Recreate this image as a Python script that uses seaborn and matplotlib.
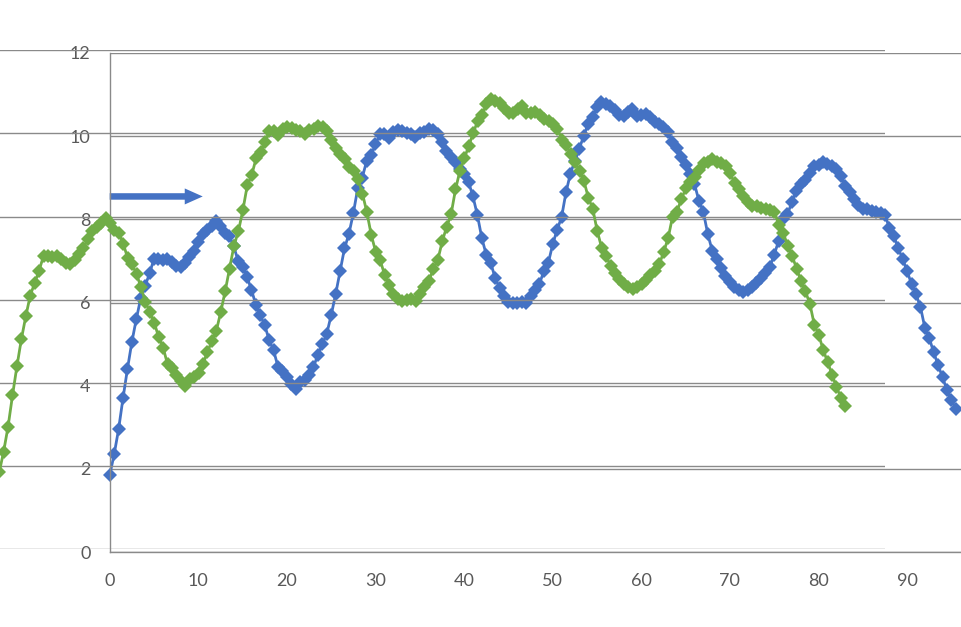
"""
Two copies of the same Excel-style scatter chart laid over each other:
the lower (blue) one carries the axes, the upper (green) one is shifted left/up.
"""
import numpy as np
import matplotlib
matplotlib.use("Agg")
import matplotlib.pyplot as plt
import seaborn as sns

# --- data ---
# samples every 0.5 along x, 0 .. 95.5
x_vals = np.arange(0, 96, 0.5)
y_vals = [
    1.85, 2.35, 2.95, 3.7, 4.4, 5.05, 5.6, 6.1, 6.4, 6.7,
    7.05, 7.05, 7.02, 7.05, 6.98, 6.88, 6.85, 6.95, 7.1, 7.25,
    7.45, 7.65, 7.75, 7.85, 7.97, 7.85, 7.68, 7.6, 7.35, 7.0,
    6.85, 6.62, 6.3, 5.95, 5.7, 5.45, 5.1, 4.85, 4.45, 4.35,
    4.2, 4.05, 3.92, 4.1, 4.15, 4.25, 4.45, 4.75, 5.0, 5.25,
    5.7, 6.2, 6.75, 7.3, 7.65, 8.15, 8.75, 9.0, 9.4, 9.55,
    9.8, 10.05, 10.05, 9.95, 10.1, 10.15, 10.12, 10.08, 10.05, 9.98,
    10.08, 10.1, 10.18, 10.15, 10.05, 9.85, 9.65, 9.5, 9.38, 9.2,
    9.1, 8.9, 8.55, 8.1, 7.55, 7.15, 6.95, 6.6, 6.35, 6.15,
    6.02, 5.98, 6.0, 6.02, 5.98, 6.15, 6.3, 6.45, 6.75, 6.95,
    7.4, 7.75, 8.05, 8.65, 9.1, 9.4, 9.7, 10.0, 10.3, 10.45,
    10.7, 10.82, 10.78, 10.72, 10.62, 10.5, 10.48, 10.58, 10.65, 10.48,
    10.5, 10.52, 10.45, 10.35, 10.3, 10.22, 10.1, 9.85, 9.72, 9.5,
    9.3, 9.1, 8.85, 8.45, 8.18, 7.65, 7.25, 7.05, 6.82, 6.65,
    6.5, 6.38, 6.3, 6.25, 6.3, 6.38, 6.48, 6.6, 6.7, 6.85,
    7.15, 7.48, 8.0, 8.12, 8.42, 8.68, 8.84, 8.95, 9.12, 9.28,
    9.3, 9.38, 9.32, 9.28, 9.22, 9.05, 8.8, 8.65, 8.5, 8.35,
    8.25, 8.25, 8.2, 8.18, 8.15, 8.1, 7.8, 7.6, 7.3, 7.05,
    6.75, 6.45, 6.2, 5.9, 5.4, 5.15, 4.8, 4.5, 4.2, 3.9,
    3.65, 3.45,
]
x_ticks = [0, 10, 20, 30, 40, 50, 60, 70, 80, 90]
y_ticks = [0, 2, 4, 6, 8, 10, 12]
arrow_start = (0, 8.55)
arrow_end_x = 10.5

BLUE = "#4472C4"
GREEN = "#70AD47"
GRID = "#8a8a8a"
LABEL = "#595959"

sns.set_style("white")
plt.rcParams["font.family"] = ["Lato", "DejaVu Sans"]

W, H = 961, 627
fig = plt.figure(figsize=(W / 100, H / 100), dpi=100)

# plot area in pixels: x 0..100 -> 886 px, y 0..12 -> 499 px
pw, ph = 886, 499.3
ax_b = fig.add_axes([109.7 / W, (H - 552.2) / H, pw / W, ph / H])
ax_g = fig.add_axes([(109.7 - 110.5) / W, (H - 549.4) / H, pw / W, ph / H])

for ax in (ax_b, ax_g):
    ax.set_xlim(0, 100)
    ax.set_ylim(0, 12)
    ax.set_xticks(x_ticks)
    ax.set_yticks(y_ticks)
    ax.patch.set_alpha(0)
    ax.grid(axis="y", color=GRID, linewidth=1.0)
    ax.grid(axis="x", visible=False)
    ax.set_axisbelow(True)

# --- lower chart: axes, labels, blue series, arrow ---
for side in ("top", "right"):
    ax_b.spines[side].set_visible(False)
for side in ("left", "bottom"):
    ax_b.spines[side].set_color(GRID)
    ax_b.spines[side].set_linewidth(1.0)
ax_b.tick_params(axis="y", direction="out", length=4.8, width=1.0, color=GRID,
                 labelcolor=LABEL, labelsize=13, pad=9)
ax_b.tick_params(axis="x", direction="out", length=4.3, width=1.0, color=GRID,
                 labelcolor=LABEL, labelsize=13, pad=11)

sns.lineplot(x=x_vals, y=y_vals, ax=ax_b, color=BLUE, marker="D",
             markersize=7, markeredgewidth=0, linewidth=2.0,
             estimator=None, sort=False, legend=False, clip_on=False)

ax_b.arrow(arrow_start[0], arrow_start[1], arrow_end_x - arrow_start[0], 0,
           width=0.156, head_width=0.385, head_length=2.03,
           length_includes_head=True, color=BLUE, linewidth=0, clip_on=False)

# --- upper chart: only gridlines and the green series ---
for side in ax_g.spines:
    ax_g.spines[side].set_visible(False)
ax_g.tick_params(length=0, labelbottom=False, labelleft=False)

sns.lineplot(x=x_vals, y=y_vals, ax=ax_g, color=GREEN, marker="D",
             markersize=7, markeredgewidth=0, linewidth=2.0,
             estimator=None, sort=False, legend=False, clip_on=False)
ax_g.set_xlabel("")
ax_g.set_ylabel("")
ax_b.set_xlabel("")
ax_b.set_ylabel("")

fig.savefig("out.png", dpi=100)
